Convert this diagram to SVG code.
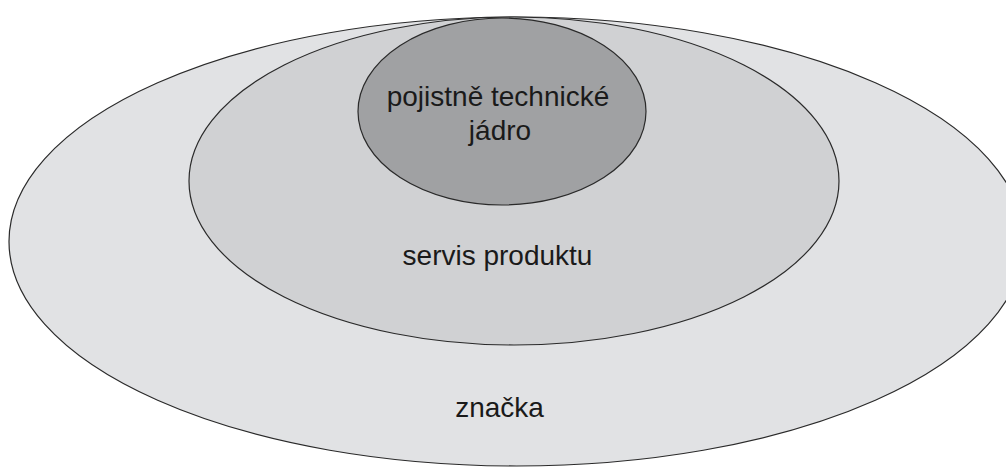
<svg xmlns="http://www.w3.org/2000/svg" width="1006" height="468" viewBox="0 0 1006 468">
<style>
.ring{stroke:#2a2a2a;stroke-width:1.2}
.lbl{font-family:"Liberation Sans",Arial,sans-serif;font-size:28px;fill:#1a1a1a;text-anchor:middle}
</style>
<rect width="1006" height="468" fill="#ffffff"/>
<g id="znacka">
<ellipse class="ring" cx="516.5" cy="241.5" rx="507.5" ry="224.5" fill="#e1e2e4"/>
<text class="lbl" x="499.5" y="417">značka</text>
</g>
<g id="servis-produktu">
<ellipse class="ring" cx="514" cy="181" rx="325" ry="164" fill="#d0d1d3"/>
<text class="lbl" x="497.5" y="265">servis produktu</text>
</g>
<g id="pojistne-technicke-jadro">
<ellipse class="ring" cx="502" cy="111.5" rx="144" ry="93.5" fill="#a0a1a3"/>
<text class="lbl" x="498"><tspan x="498" y="105.5">pojistně technické</tspan><tspan x="500" y="140">jádro</tspan></text>
</g>
<g id="connectors"></g>
</svg>
